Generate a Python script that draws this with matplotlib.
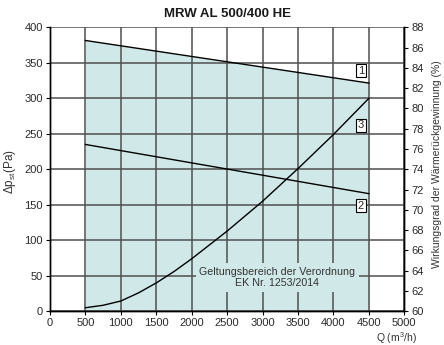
import matplotlib
matplotlib.use("Agg")
import matplotlib.pyplot as plt

plt.rcParams['font.family'] = ['Liberation Sans', 'DejaVu Sans']
plt.rcParams['mathtext.fontset'] = 'custom'
plt.rcParams['mathtext.rm'] = 'Liberation Sans'
plt.rcParams['mathtext.it'] = 'Liberation Sans'

# Data
q_pressure = [500, 750, 1000, 1250, 1500, 1750, 2000, 2500, 3000, 3500, 4000, 4500]
dp_curve3 = [5, 8.5, 14.5, 26, 40, 56, 74, 113, 155, 201, 249, 300]

q_eff = [500, 4500]
eff_curve1 = [86.7, 82.5]
eff_curve2 = [76.45, 71.6]

x_ticks = [0, 500, 1000, 1500, 2000, 2500, 3000, 3500, 4000, 4500, 5000]
y_ticks = [0, 50, 100, 150, 200, 250, 300, 350, 400]
y2_ticks = [60, 62, 64, 66, 68, 70, 72, 74, 76, 78, 80, 82, 84, 86, 88]

labels = ["1", "2", "3"]
label_q = [4385, 4385, 4385]
label_dp = [339, 149, 262]

FILL = '#d0e8e8'
GRID = '#505050'
TXT = '#2a2a2a'

fig = plt.figure(figsize=(4.44, 3.45), dpi=100)
ax = fig.add_axes([50/444, 1-311.3/345, (404.3-50)/444, (311.3-27.3)/345])
ax2 = ax.twinx()

ax.set_xlim(0, 5000)
ax.set_ylim(0, 400)
ax2.set_ylim(60, 88)

def pct_to_pa(p):
    return (p - 60) / 28 * 400

eff1_pa = [pct_to_pa(v) for v in eff_curve1]
ax.fill_between(q_eff, 0, eff1_pa, color=FILL, lw=0, zorder=1)

ax.set_xticks(x_ticks)
ax.set_yticks(y_ticks)
ax2.set_yticks(y2_ticks)
ax.set_axisbelow('line')
ax.grid(True, color=GRID, lw=1.1)

for a in (ax, ax2):
    for s in a.spines.values():
        s.set_linewidth(1.0)
        s.set_color('black')
    a.spines['top'].set_visible(False)

ax.tick_params(axis='both', direction='out', length=3, width=0.8, labelsize=8, pad=2,
               labelcolor=TXT)
ax2.tick_params(axis='y', direction='out', length=3, width=0.8, labelsize=8, pad=2,
                labelcolor=TXT)

ax.text(3210, 48, "Geltungsbereich der Verordnung\nEK Nr. 1253/2014", ha='center', va='center',
        fontsize=7.7, color='#333333', linespacing=1.15, zorder=2,
        bbox=dict(boxstyle='square,pad=0.35', fc=FILL, ec='none'))

ax.plot(q_pressure, dp_curve3, color='black', lw=1.0, zorder=3)
ax2.plot(q_eff, eff_curve1, color='black', lw=1.0, zorder=3)
ax2.plot(q_eff, eff_curve2, color='black', lw=1.0, zorder=3)

for lab, lq, ld in zip(labels, label_q, label_dp):
    ax.text(lq, ld, lab, ha='center', va='center', fontsize=8, zorder=4, color=TXT,
            bbox=dict(boxstyle='square,pad=0.15', fc='white', ec='black', lw=0.8))

fig.text(227/444, 1-14/345, "MRW AL 500/400 HE", ha='center', va='center',
         fontsize=9.5, fontweight='bold', color='#1a1a1a')
fig.text(10/444, 1-172/345, "Δp$_{\\mathregular{st}}$(Pa)", ha='center', va='center',
         rotation=90, fontsize=8.5, color='#333333')
fig.text(437/444, 1-164/345, "Wirkungsgrad der Wärmerückgewinnung (%)", ha='center', va='center',
         rotation=90, fontsize=7.5, color='#333333')
fig.text(417/444, 1-338/345, "Q (m$^{\\mathregular{3}}$/h)", ha='right', va='center',
         fontsize=7.5, color='#333333')

fig.savefig("out.png", dpi=100)
